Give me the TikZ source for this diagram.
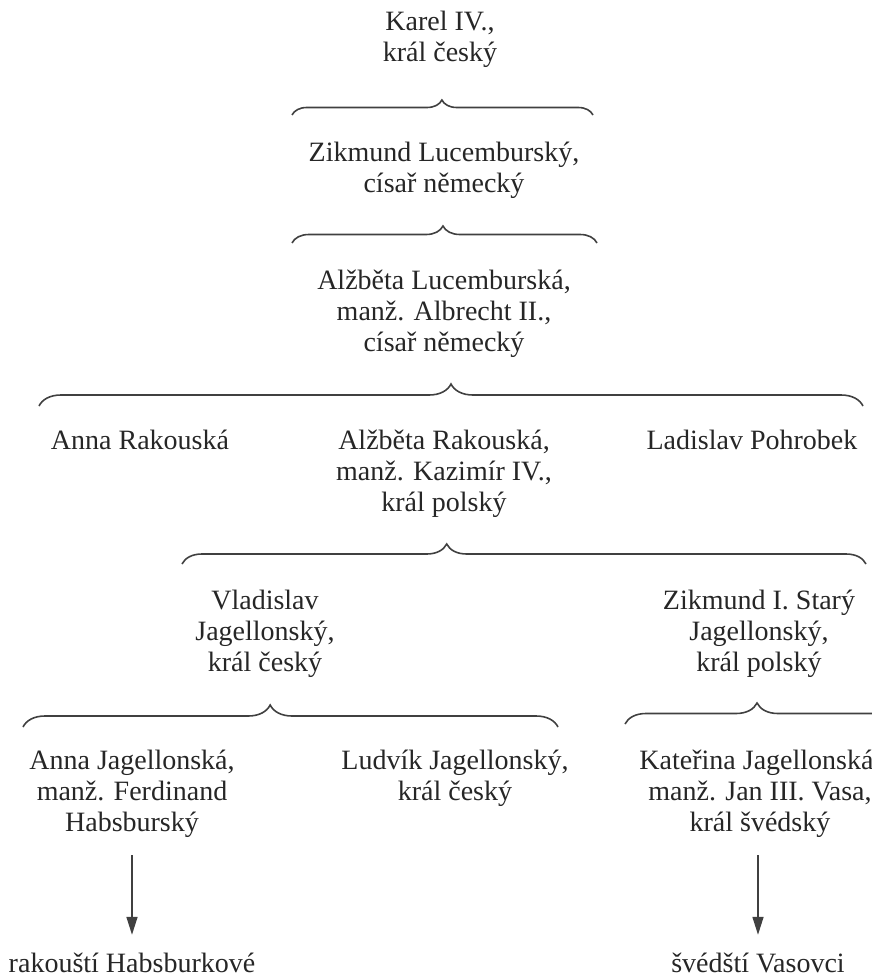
\documentclass[tikz,border=0pt]{standalone}
\usepackage{fontspec}
\setmainfont{Liberation Serif}
\usepackage{tikz}
\usetikzlibrary{decorations.pathreplacing, arrows.meta, positioning}
\tikzstyle{osoba}=
[
	rectangle
	,align=center
	,inner sep=0pt
	,text height=20pt
	,text depth=6pt
	,font=\fontsize{28}{31}\selectfont
	,text=black!85
]
\tikzstyle{zavorka}=
[
	decorate
	,line width=1.6pt
	,draw=black!75
]
\tikzstyle{arrow} = [line width=1.6pt,draw=black!75,-{Triangle[width=11pt,length=18pt]}]

\begin{document}
\begin{tikzpicture}[x=1pt,y=-1pt]
\useasboundingbox (0,0) rectangle (872,979);
% uzly se umistuji podle posledniho radku
\node(karel)[osoba] at (440,55) {Karel IV.,\\ král český};
\node(zikmund)[osoba] at (444,185) {Zikmund Lucemburský,\\ císař německý};
\node(alzbetaL)[osoba] at (444,344) {Alžběta Lucemburská,\\ manž. Albrecht II.,\\ císař německý};
\node(annaR)[osoba] at (140,442) {Anna Rakouská};
\node(alzbetaR)[osoba] at (444,504) {Alžběta Rakouská,\\ manž. Kazimír IV.,\\ král polský};
\node(ladislav)[osoba] at (752,442) {Ladislav Pohrobek};
\node(vladislav)[osoba] at (265,664) {Vladislav\\ Jagellonský,\\ král český};
\node(zikmundS)[osoba] at (759,664) {Zikmund I. Starý\\ Jagellonský,\\ král polský};
\node(annaJ)[osoba] at (132,824) {Anna Jagellonská,\\ manž. Ferdinand\\ Habsburský};
\node(ludvik)[osoba] at (455,793) {Ludvík Jagellonský,\\ král český};
\node(katerina)[osoba] at (760,824) {Kateřina Jagellonská,\\ manž. Jan III. Vasa,\\ král švédský};
\node(habsburk)[osoba] at (132,965) {rakouští Habsburkové};
\node(vasovci)[osoba] at (758,965) {švédští Vasovci};

% zavorky
\draw[zavorka,decoration={brace,amplitude=15pt,aspect=0.498}](292,115)--(593,115);
\draw[zavorka,decoration={brace,amplitude=17pt,aspect=0.495}](292,243)--(597,243);
\draw[zavorka,decoration={brace,amplitude=22pt,aspect=0.5}](39,406)--(863,406);
\draw[zavorka,decoration={brace,amplitude=20pt,aspect=0.387}](182,564)--(866,564);
\draw[zavorka,decoration={brace,amplitude=22pt,aspect=0.462}](23,727)--(558,727);
\draw[zavorka,decoration={brace,amplitude=21pt,aspect=0.489}](625,724)--(895,724);

\draw[arrow,shorten <=18pt,shorten >=17pt](annaJ)--(habsburk);
\draw[arrow,shorten <=18pt,shorten >=17pt](katerina.south -| vasovci)--(vasovci);
\end{tikzpicture}
\end{document}
